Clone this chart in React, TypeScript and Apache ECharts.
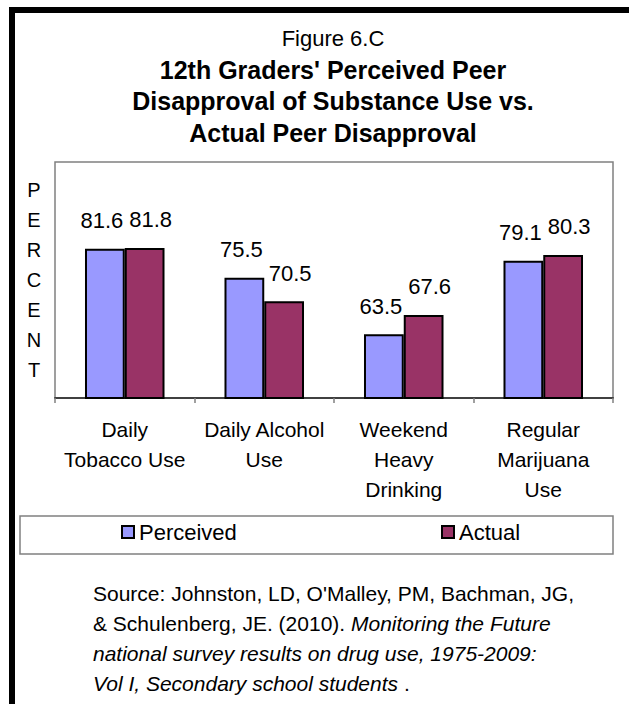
import React, { useEffect, useRef } from "react";
import * as echarts from "echarts";

const categories = [
  "Daily\nTobacco Use",
  "Daily Alcohol\nUse",
  "Weekend\nHeavy\nDrinking",
  "Regular\nMarijuana\nUse",
];
const perceived = [81.6, 75.5, 63.5, 79.1];
const actual = [81.8, 70.5, 67.6, 80.3];
const seriesNames = ["Perceived", "Actual"];

const FONT = "'Liberation Sans', Arial, sans-serif";

export default function App() {
  const ref = useRef<HTMLDivElement>(null);
  useEffect(() => {
    document.body.style.margin = "0";
    const chart = echarts.init(ref.current!, null, { renderer: "svg" });
    const labelCommon = {
      show: true,
      position: "top",
      distance: 17,
      fontSize: 22,
      fontFamily: FONT,
      color: "#000",
      formatter: (p: any) => p.value.toFixed(1),
    };
    chart.setOption({
      animation: false,
      backgroundColor: "#fff",
      textStyle: { fontFamily: FONT },
      title: [
        {
          text: "Figure 6.C",
          left: 328,
          textAlign: "center",
          top: 22,
          textStyle: { fontSize: 22, fontWeight: "normal", color: "#000", fontFamily: FONT },
        },
        {
          text: "12th Graders' Perceived Peer\nDisapproval of Substance Use vs.\nActual Peer Disapproval",
          left: 328,
          textAlign: "center",
          top: 49,
          textStyle: {
            fontSize: 25,
            fontWeight: "bold",
            color: "#000",
            fontFamily: FONT,
            lineHeight: 31.5,
          },
        },
        {
          text:
            "{n|Source: Johnston, LD, O'Malley, PM, Bachman, JG,}\n" +
            "{n|& Schulenberg, JE. (2010). }{i|Monitoring the Future}\n" +
            "{i|national survey results on drug use, 1975-2009:}\n" +
            "{i|Vol I, Secondary school students}{n| .}",
          left: 93,
          top: 578,
          padding: 0,
          textStyle: {
            fontWeight: "normal",
            rich: {
              n: { fontSize: 21, fontWeight: "normal", color: "#000", fontFamily: FONT, lineHeight: 30 },
              i: {
                fontSize: 21,
                fontWeight: "normal",
                color: "#000",
                fontFamily: FONT,
                fontStyle: "italic",
                lineHeight: 30,
              },
            },
          },
        },
      ],
      legend: [
        {
          data: [seriesNames[0]],
          left: 121,
          top: 521,
          padding: 0,
          icon: "rect",
          itemWidth: 12,
          itemHeight: 12,
          itemGap: 0,
          textStyle: { fontSize: 22, color: "#000", fontFamily: FONT },
        },
        {
          data: [seriesNames[1]],
          left: 441,
          top: 521,
          padding: 0,
          icon: "rect",
          itemWidth: 12,
          itemHeight: 12,
          itemGap: 0,
          textStyle: { fontSize: 22, color: "#000", fontFamily: FONT },
        },
      ],
      grid: {
        left: 55,
        top: 162,
        width: 558,
        height: 236,
        show: true,
        borderColor: "#808080",
        borderWidth: 1.5,
        backgroundColor: "transparent",
      },
      xAxis: {
        type: "category",
        data: categories,
        axisLine: { lineStyle: { color: "#404040", width: 2 } },
        axisTick: { show: true, length: 5, lineStyle: { color: "#808080", width: 1.5 } },
        axisLabel: {
          fontSize: 21,
          color: "#000",
          fontFamily: FONT,
          lineHeight: 30,
          margin: 16,
          interval: 0,
        },
      },
      yAxis: {
        type: "value",
        min: 50,
        max: 100,
        name: "P\nE\nR\nC\nE\nN\nT",
        nameLocation: "middle",
        nameRotate: 0,
        nameGap: 21,
        nameTextStyle: { fontSize: 20, color: "#000", fontFamily: FONT, lineHeight: 30, align: "center" },
        axisLine: { show: false },
        axisTick: { show: false },
        axisLabel: { show: false },
        splitLine: { show: false },
      },
      series: [
        {
          name: seriesNames[0],
          type: "bar",
          data: perceived,
          barGap: "0%",
          barCategoryGap: "43%",
          itemStyle: { color: "#9999FF", borderColor: "#000", borderWidth: 2 },
          label: { ...labelCommon, offset: [-3, 0] },
        },
        {
          name: seriesNames[1],
          type: "bar",
          data: actual,
          itemStyle: { color: "#993366", borderColor: "#000", borderWidth: 2 },
          label: { ...labelCommon, offset: [6, 0] },
        },
      ],
      graphic: [
        {
          type: "rect",
          shape: { x: 20, y: 516, width: 593, height: 38 },
          style: { fill: "none", stroke: "#808080", lineWidth: 1.5 },
        },
        {
          type: "rect",
          shape: { x: 9, y: 7, width: 620, height: 6 },
          style: { fill: "#000" },
        },
        {
          type: "rect",
          shape: { x: 9, y: 7, width: 6, height: 697 },
          style: { fill: "#000" },
        },
      ],
    });
    return () => chart.dispose();
  }, []);
  return <div ref={ref} style={{ width: 629, height: 704 }} />;
}
